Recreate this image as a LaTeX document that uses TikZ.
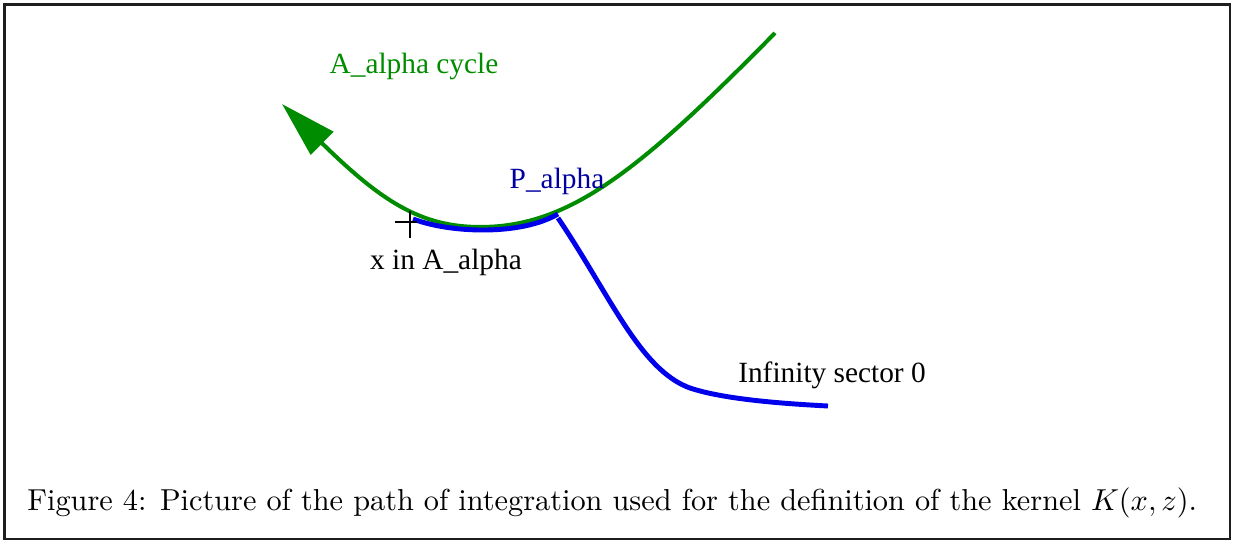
\documentclass[tikz,border=0pt]{standalone}
\usepackage{fontspec}
\usepackage{tikz}
\usetikzlibrary{arrows.meta, positioning}
\newfontfamily\labelfont{Liberation Serif}
\definecolor{cycleColor}{RGB}{0,140,0}
\definecolor{pathColor}{RGB}{0,0,235}
\definecolor{pointColor}{RGB}{0,0,160}
\definecolor{frameColor}{RGB}{30,30,30}
\tikzstyle{lbl} = [inner sep=0pt, font=\labelfont\fontsize{16.7}{20}\selectfont]
\tikzstyle{cycle} = [line width=2.3pt, cycleColor, -{Triangle[length=32pt, width=18pt]}]
\tikzstyle{route} = [line width=2.8pt, pathColor]

\begin{document}
\begin{tikzpicture}[x=0.02cm, y=-0.02cm]
        \useasboundingbox (0,0) rectangle (1240,542);
        \draw [frameColor, line width=1.2pt] (4.5,4.5) rectangle (1229.7,539.3);

        % the cycle and the two pieces of the path
        \coordinate (cycEnd) at (775,33);
        \coordinate (cycLow) at (480,227);
        \coordinate (cycTip) at (282,104);
        \coordinate (xpt) at (410,222);
        \coordinate (ppt) at (558,214);
        \coordinate (infEnd) at (828,406);

        \draw [cycle] (cycEnd) .. controls (640,170) and (570,227) .. (cycLow)
                .. controls (420,227) and (380,200) .. (cycTip);
        \draw [route] (413,219) .. controls (450,233) and (520,236) .. (ppt);
        \draw [route] (558,218) .. controls (610,295) and (640,370) .. (690,388)
                .. controls (720,398) and (770,403) .. (infEnd);

        % marker at x
        \draw [line width=0.6pt] (xpt) ++(-15,0) -- ++(22,0);
        \draw [line width=0.6pt] (xpt) ++(0,-11) -- ++(0,27);

        \node (cycname) [lbl, text=cycleColor] at (414,66) {A\_alpha cycle};
        \node (pname) [lbl, text=pointColor] at (557,181) {P\_alpha};
        \node (xname) [lbl] at (446,262) {x in A\_alpha};
        \node (infname) [lbl] at (832,375) {Infinity sector 0};

        \node (caption) [anchor=west, inner sep=0pt] at (27,503)
                {\resizebox{23.4cm}{!}{Figure 4: Picture of the path of integration used for the definition of the kernel $K(x,z)$.}};
    \end{tikzpicture}
\end{document}
